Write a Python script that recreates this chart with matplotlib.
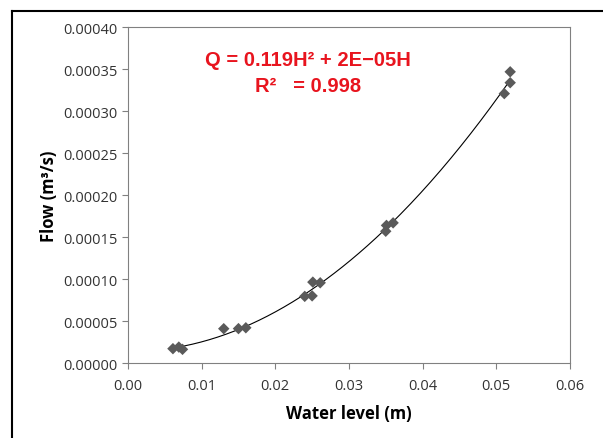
import matplotlib
matplotlib.use("Agg")
import matplotlib.pyplot as plt
import numpy as np
from matplotlib.lines import Line2D

water_level = [0.0061, 0.0069, 0.0074, 0.0130, 0.0150, 0.0160, 0.0240, 0.0250,
               0.0251, 0.0261, 0.0350, 0.0351, 0.0360, 0.0511, 0.0519, 0.0519]
flow = [0.0000171, 0.0000190, 0.0000163, 0.0000409, 0.0000410, 0.0000420,
        0.0000794, 0.0000800, 0.0000964, 0.0000956, 0.0001570, 0.0001640,
        0.0001670, 0.0003210, 0.0003340, 0.0003470]
x_ticks = [0.00, 0.01, 0.02, 0.03, 0.04, 0.05, 0.06]
y_ticks = [0.00000, 0.00005, 0.00010, 0.00015, 0.00020, 0.00025, 0.00030, 0.00035, 0.00040]
equation = "Q = 0.119H² + 2E−05H"
r2_text = "R²   = 0.998"

plt.rcParams['font.family'] = ['Open Sans', 'DejaVu Sans']

fig = plt.figure(figsize=(6.03, 4.39), dpi=100)
ax = fig.add_axes([0.2123, 0.1708, 0.7327, 0.7647])

# outer border (top and left edges visible)
bx, by = 11.5/603, 1 - 11.5/439
fig.add_artist(Line2D([bx, 1.0], [by, by], transform=fig.transFigure, color='black', linewidth=1.5))
fig.add_artist(Line2D([bx, bx], [0, by], transform=fig.transFigure, color='black', linewidth=1.5))

# trendline (least squares fit of the data)
coef = np.polyfit(water_level, flow, 2)
xs = np.linspace(0.0065, 0.0515, 200)
ax.plot(xs, np.polyval(coef, xs), color='black', linewidth=0.8, zorder=2)

ax.scatter(water_level, flow, marker='D', s=34, color='#5a5a5a', edgecolors='none', zorder=3)

ax.set_xlim(0, 0.06)
ax.set_ylim(0, 0.0004)
ax.set_xticks(x_ticks)
ax.set_xticklabels([f"{v:.2f}" for v in x_ticks])
ax.set_yticks(y_ticks)
ax.set_yticklabels([f"{v:.5f}" for v in y_ticks])
ax.tick_params(axis='both', direction='out', length=4, width=0.8, color='#808080',
               labelsize=10.5, labelcolor='#333333')
ax.tick_params(axis='x', pad=7)
for s in ax.spines.values():
    s.set_color('#808080')
    s.set_linewidth(0.8)

ax.set_xlabel("Water level (m)", fontsize=12, fontweight='bold', labelpad=8)
ax.set_ylabel("Flow (m³/s)", fontsize=12, fontweight='bold', labelpad=4)

fig.text(308/603, 1 - 60/439, equation, color='#e8141e', fontsize=14.5, fontweight='bold',
         ha='center', va='center', family=['Liberation Sans', 'DejaVu Sans'])
fig.text(308/603, 1 - 86/439, r2_text, color='#e8141e', fontsize=14.5, fontweight='bold',
         ha='center', va='center', family=['Liberation Sans', 'DejaVu Sans'])

fig.savefig("out.png", dpi=100)
